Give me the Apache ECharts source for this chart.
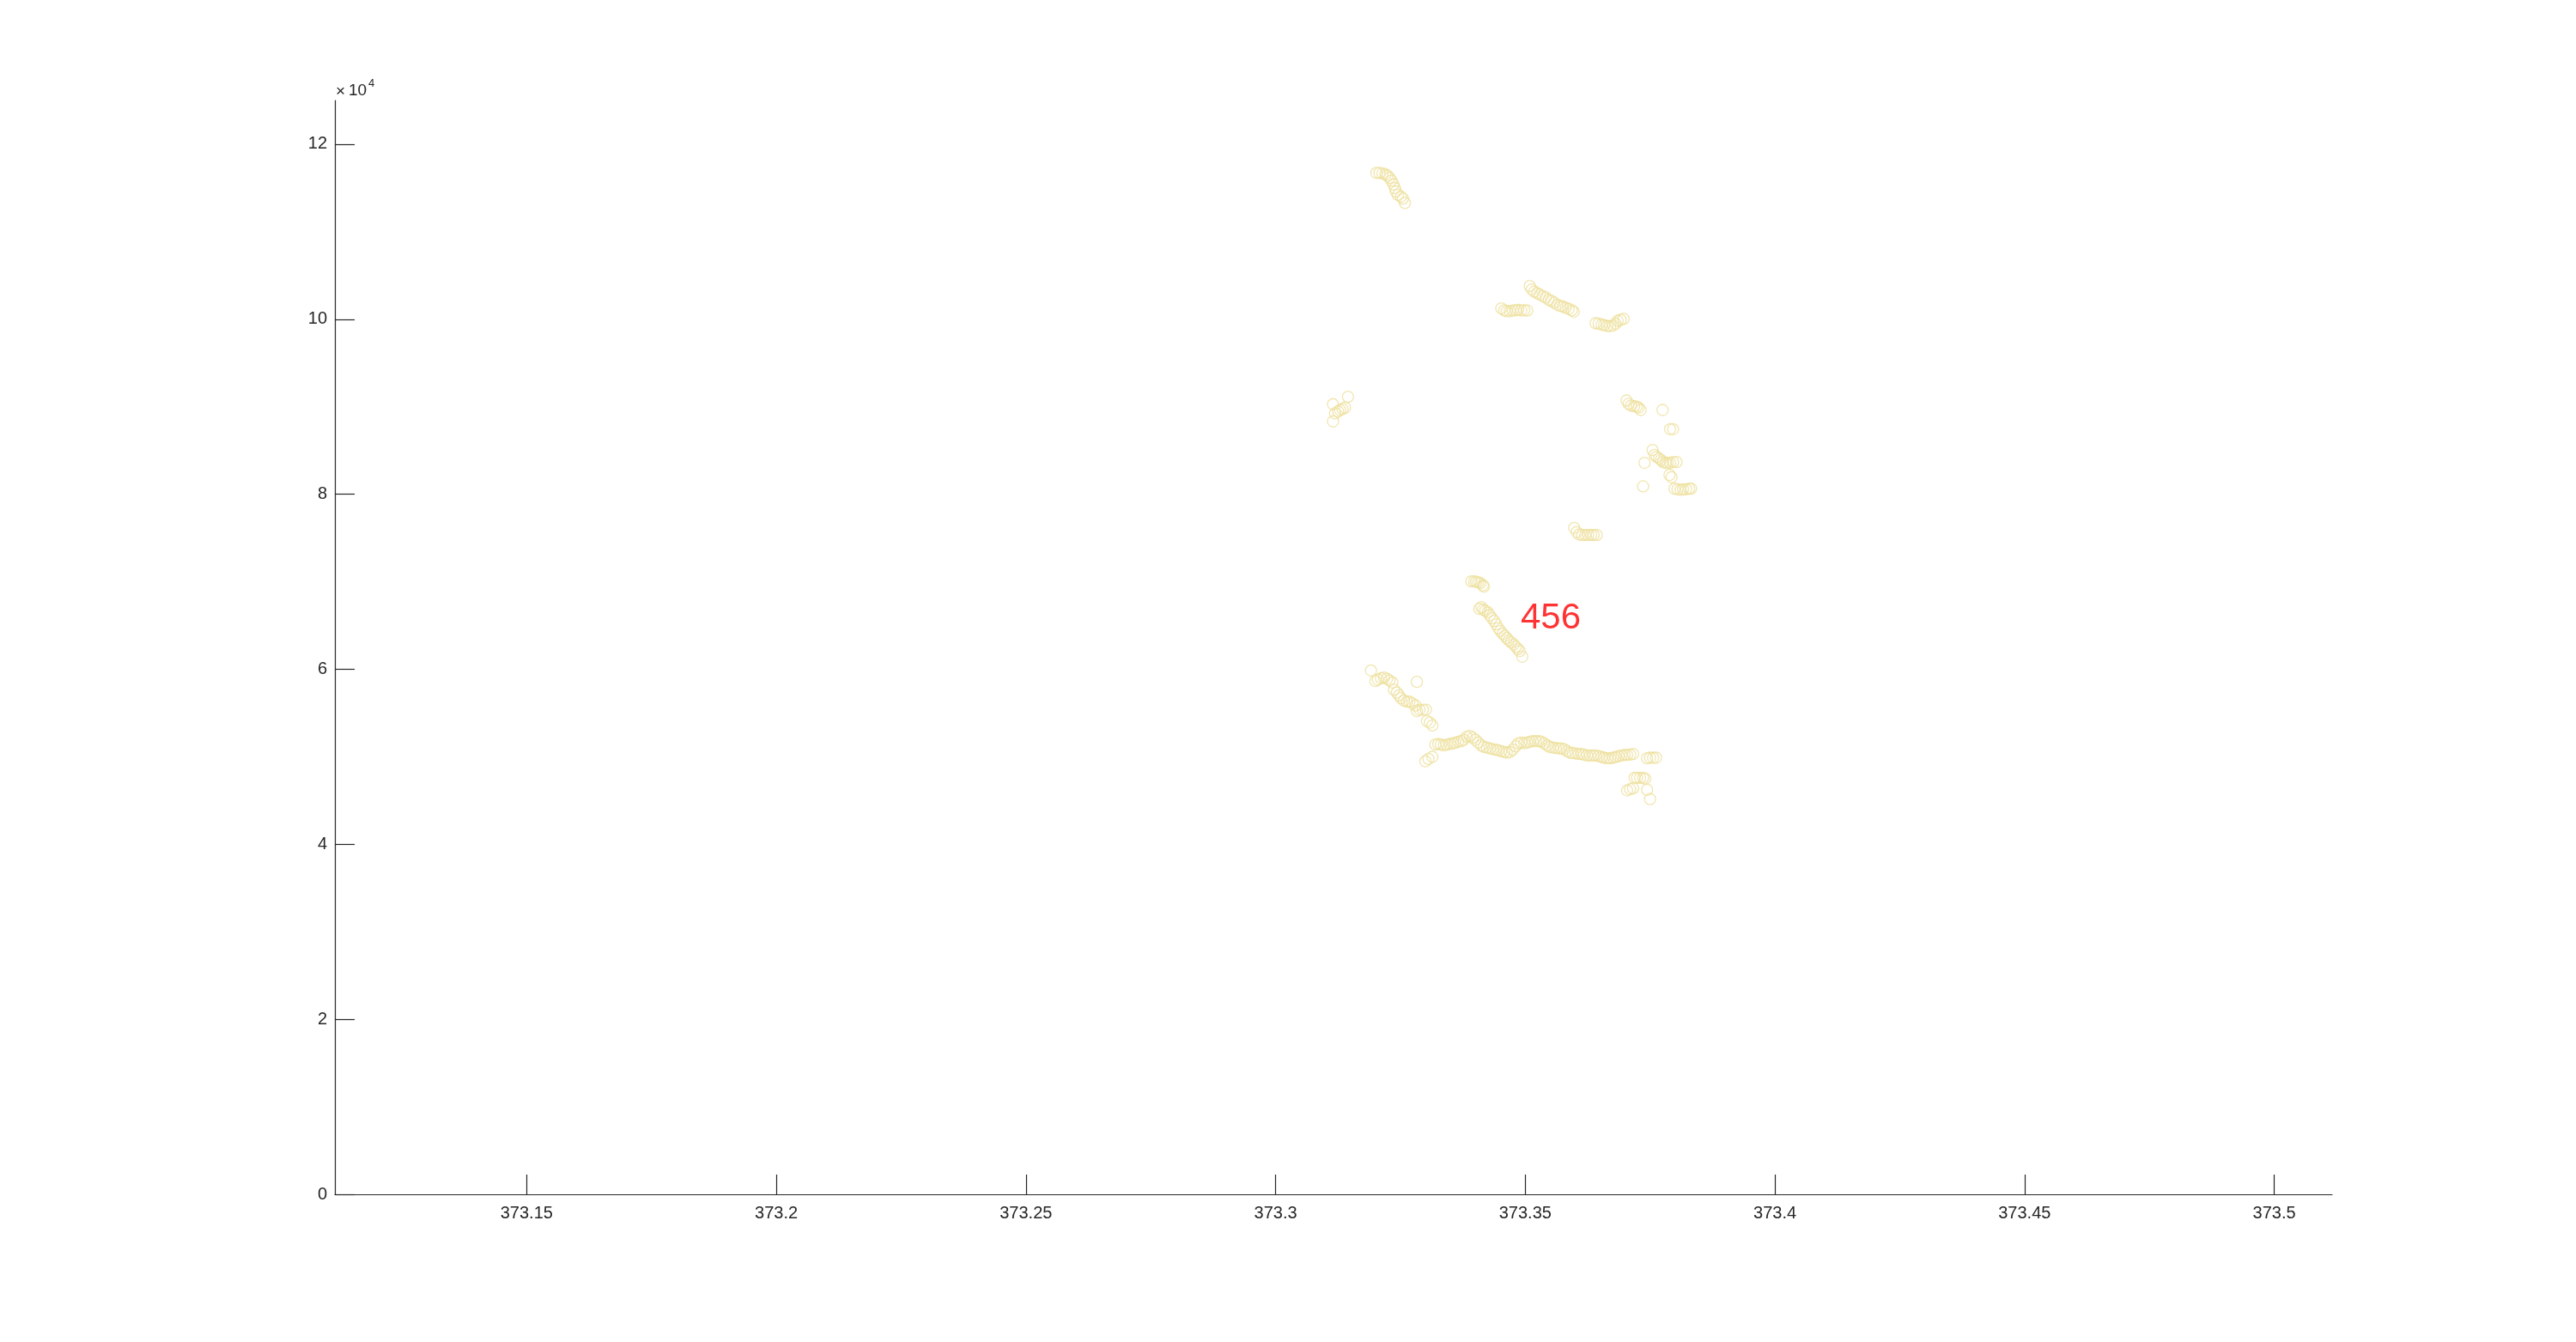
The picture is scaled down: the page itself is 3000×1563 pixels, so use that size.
<!DOCTYPE html>
<html>
<head>
<meta charset="utf-8">
<script src="https://cdn.jsdelivr.net/npm/echarts@6/dist/echarts.min.js"></script>
<style>
html,body{margin:0;padding:0;background:#fff;}
#chart{width:3000px;height:1563px;}
</style>
</head>
<body>
<div id="chart"></div>
<script>
// ---- tick values ----
const xTicks = [373.15, 373.2, 373.25, 373.3, 373.35, 373.4, 373.45, 373.5];
const yTicks = [0, 20000, 40000, 60000, 80000, 100000, 120000];
const yExponentTimes = '×';
const yExponentBase = '10';
const yExponentSup = '4';

// ---- data clusters ----
const clusterA_x = [373.3202, 373.3208, 373.3214, 373.3220, 373.3224, 373.3228, 373.3232, 373.3236, 373.3239, 373.3241, 373.3245, 373.3251, 373.3255, 373.3259];
const clusterA_y = [116720, 116720, 116660, 116560, 116400, 116170, 115840, 115410, 114990, 114600, 114210, 114010, 113780, 113290];

const clusterB1_x = [373.3452, 373.3458, 373.3463, 373.3469, 373.3475, 373.3481, 373.3486, 373.3492, 373.3498, 373.3504];
const clusterB1_y = [101250, 101020, 100920, 100920, 100990, 101020, 101080, 100990, 101020, 100990];

const clusterB2_x = [373.3509, 373.3513, 373.3518, 373.3524, 373.3529, 373.3535, 373.3541, 373.3547, 373.3552, 373.3558, 373.3564, 373.3570, 373.3575, 373.3581, 373.3587, 373.3593, 373.3597];
const clusterB2_y = [103800, 103410, 103150, 102980, 102820, 102650, 102490, 102230, 102100, 101900, 101670, 101510, 101450, 101310, 101180, 101020, 100860];

const clusterB3_x = [373.3641, 373.3647, 373.3653, 373.3658, 373.3664, 373.3670, 373.3676, 373.3681, 373.3685, 373.3691, 373.3697];
const clusterB3_y = [99540, 99490, 99390, 99320, 99220, 99220, 99290, 99490, 99810, 99940, 100040];

const clusterC1_x = [373.3115, 373.3115, 373.3119, 373.3125, 373.3129, 373.3134, 373.3139, 373.3145];
const clusterC1_y = [90290, 88330, 89240, 89470, 89630, 89730, 89900, 91140];

const clusterC2_x = [373.3703, 373.3707, 373.3712, 373.3718, 373.3723, 373.3727, 373.3731, 373.3775, 373.3790, 373.3796];
const clusterC2_y = [90710, 90320, 90120, 90060, 90000, 89900, 89630, 89630, 87440, 87440];

const clusterC3_x = [373.3755, 373.3759, 373.3763, 373.3768, 373.3772, 373.3776, 373.3781, 373.3785, 373.3790, 373.3796, 373.3803, 373.3739, 373.3789, 373.3793, 373.3736, 373.3799, 373.3805, 373.3811, 373.3816, 373.3822, 373.3828, 373.3832];
const clusterC3_y = [85060, 84500, 84270, 84080, 83910, 83680, 83590, 83590, 83590, 83680, 83680, 83590, 82210, 81950, 80900, 80640, 80570, 80500, 80570, 80570, 80640, 80640];

const clusterD_x = [373.3598, 373.3603, 373.3608, 373.3614, 373.3620, 373.3626, 373.3632, 373.3637, 373.3643];
const clusterD_y = [76160, 75670, 75400, 75340, 75340, 75340, 75340, 75340, 75340];

const clusterE1_x = [373.3392, 373.3398, 373.3402, 373.3406, 373.3410, 373.3415, 373.3417];
const clusterE1_y = [70040, 70040, 70000, 69940, 69850, 69610, 69450];

const clusterE2_x = [373.3408, 373.3412, 373.3416, 373.3420, 373.3425, 373.3429, 373.3433, 373.3438, 373.3442, 373.3446, 373.3450, 373.3455, 373.3459, 373.3463, 373.3467, 373.3472, 373.3477, 373.3481, 373.3485, 373.3489, 373.3494];
const clusterE2_y = [66900, 67100, 66830, 66670, 66510, 66180, 65850, 65530, 65140, 64700, 64380, 64060, 63820, 63570, 63300, 63070, 62840, 62580, 62320, 62090, 61440];

const clusterF_x = [373.3191, 373.3200, 373.3205, 373.3211, 373.3217, 373.3223, 373.3228, 373.3234, 373.3237, 373.3243, 373.3247, 373.3251, 373.3257, 373.3263, 373.3268, 373.3274, 373.3280, 373.3283, 373.3288, 373.3295, 373.3301, 373.3303, 373.3309, 373.3314, 373.3283];
const clusterF_y = [59870, 58660, 58820, 58980, 59050, 58910, 58720, 58490, 57680, 57340, 57020, 56700, 56430, 56300, 56300, 56110, 55870, 55220, 55380, 55380, 55380, 54080, 53910, 53580, 58560];

const bandLow_x = [373.3300, 373.3306, 373.3314];
const bandLow_y = [49490, 49760, 49990];

const band_x = [373.3320, 373.3326, 373.3331, 373.3337, 373.3343, 373.3349, 373.3355, 373.3360, 373.3366, 373.3372,
  373.3377, 373.3383, 373.3389, 373.3395, 373.3400, 373.3406, 373.3412, 373.3417, 373.3423, 373.3429,
  373.3435, 373.3441, 373.3446, 373.3452, 373.3458, 373.3463, 373.3469, 373.3475, 373.3481, 373.3486,
  373.3492, 373.3498, 373.3504, 373.3509, 373.3515, 373.3521, 373.3527, 373.3532, 373.3538, 373.3544,
  373.3549, 373.3555, 373.3561, 373.3567, 373.3572, 373.3578, 373.3584, 373.3590, 373.3595, 373.3601,
  373.3607, 373.3613, 373.3618, 373.3624, 373.3630, 373.3636, 373.3641, 373.3647, 373.3653, 373.3658,
  373.3664, 373.3670, 373.3676, 373.3681, 373.3687, 373.3693, 373.3699, 373.3704, 373.3710, 373.3716];
const band_y = [51400, 51460, 51400, 51300, 51400, 51460, 51520, 51620, 51720, 51790,
  51950, 52280, 52380, 52180, 51950, 51620, 51300, 51130, 51060, 50960,
  50870, 50810, 50740, 50640, 50540, 50470, 50540, 50810, 51200, 51520,
  51620, 51550, 51620, 51720, 51790, 51790, 51790, 51720, 51520, 51300,
  51130, 51060, 51000, 50960, 50960, 50870, 50640, 50470, 50420, 50380,
  50320, 50320, 50220, 50150, 50150, 50150, 50150, 50080, 49980, 49890,
  49830, 49830, 49890, 49980, 50080, 50150, 50220, 50220, 50250, 50320];

const bandRight_x = [373.3744, 373.3750, 373.3756, 373.3762, 373.3719, 373.3724, 373.3730, 373.3736, 373.3740, 373.3704, 373.3710, 373.3716, 373.3744, 373.3750];
const bandRight_y = [49830, 49890, 49890, 49890, 47600, 47600, 47600, 47600, 47500, 46160, 46290, 46390, 46220, 45170];

// ---- annotation ----
const labelX = [373.349];
const labelY = [65800];
const labelText = ['456'];

// ---- build ----
function zip(xs, ys) { return xs.map((x, i) => [x, ys[i]]); }
const allPoints = [].concat(
  zip(clusterA_x, clusterA_y), zip(clusterB1_x, clusterB1_y), zip(clusterB2_x, clusterB2_y),
  zip(clusterB3_x, clusterB3_y), zip(clusterC1_x, clusterC1_y), zip(clusterC2_x, clusterC2_y),
  zip(clusterC3_x, clusterC3_y), zip(clusterD_x, clusterD_y), zip(clusterE1_x, clusterE1_y),
  zip(clusterE2_x, clusterE2_y), zip(clusterF_x, clusterF_y), zip(bandLow_x, bandLow_y),
  zip(band_x, band_y), zip(bandRight_x, bandRight_y)
);

const FONT = "'Liberation Sans', Arial, Helvetica, sans-serif";
const AXC = '#262626';
const chart = echarts.init(document.getElementById('chart'), null, {renderer: 'canvas'});
chart.setOption({
  backgroundColor: '#ffffff',
  animation: false,
  grid: {left: 390, right: 284, top: 117, bottom: 172, containLabel: false},
  xAxis: {
    type: 'value', min: 373.1116, max: 373.5116,
    axisLine: {show: true, onZero: false, lineStyle: {color: AXC, width: 1.2}},
    axisTick: {show: true, inside: true, length: 23, customValues: xTicks, lineStyle: {color: AXC, width: 1.2}},
    axisLabel: {show: true, customValues: xTicks, margin: 12, color: AXC, fontSize: 20, fontFamily: FONT,
      formatter: v => String(Number(v.toFixed(2)))},
    splitLine: {show: false}
  },
  yAxis: {
    type: 'value', min: 0, max: 125000,
    axisLine: {show: true, onZero: false, lineStyle: {color: AXC, width: 1.2}},
    axisTick: {show: true, inside: true, length: 23, customValues: yTicks, lineStyle: {color: AXC, width: 1.2}},
    axisLabel: {show: true, customValues: yTicks, margin: 9, color: AXC, fontSize: 20, fontFamily: FONT,
      formatter: v => String(Math.round(v / 1e4))},
    splitLine: {show: false}
  },
  graphic: [
    {type: 'text', left: 391, top: 97, silent: true,
      style: {text: yExponentTimes, fill: AXC, fontSize: 19, fontFamily: FONT}},
    {type: 'text', left: 406, top: 96, silent: true,
      style: {text: yExponentBase, fill: AXC, fontSize: 19, fontFamily: FONT}},
    {type: 'text', left: 429, top: 91, silent: true,
      style: {text: yExponentSup, fill: AXC, fontSize: 13, fontFamily: FONT}}
  ],
  series: [
    {
      type: 'scatter', data: allPoints, symbol: 'circle', symbolSize: 13, silent: true,
      itemStyle: {color: 'rgba(0,0,0,0)', borderColor: '#EEE09C', borderWidth: 1.3},
      emphasis: {disabled: true}
    },
    {
      type: 'scatter', data: zip(labelX, labelY), symbolSize: 1, silent: true,
      itemStyle: {color: 'rgba(0,0,0,0)'},
      label: {show: true, position: 'right', distance: 0, formatter: p => labelText[p.dataIndex],
        color: '#FF0000', fontSize: 42, fontFamily: FONT, align: 'left', verticalAlign: 'middle'},
      emphasis: {disabled: true}
    }
  ]
});
</script>
</body>
</html>
